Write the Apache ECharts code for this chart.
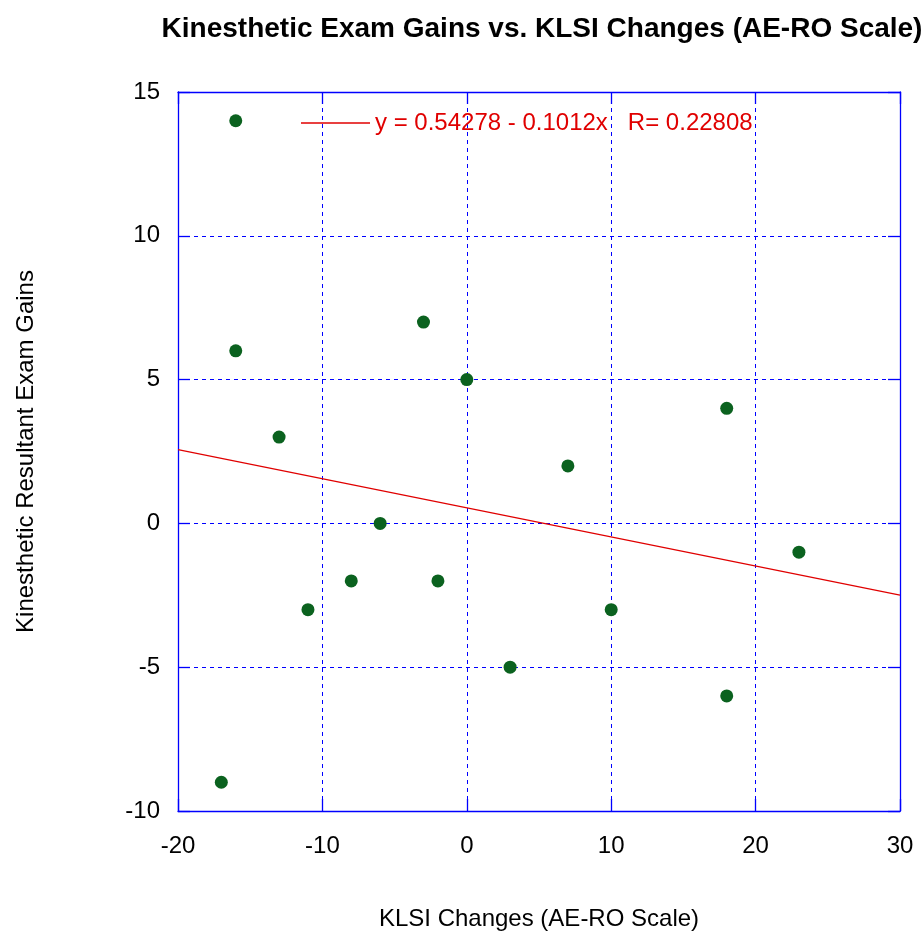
<!DOCTYPE html>
<html><head><meta charset="utf-8">
<script src="https://cdn.jsdelivr.net/npm/echarts@6/dist/echarts.min.js"></script>
<style>html,body{margin:0;padding:0;background:#fff}#c{width:922px;height:936px}</style>
</head><body><div id="c"></div>
<script>
const klsiChanges = [-16, -16, -13, -17, -11, -8, -6, -3, -2, 0, 3, 7, 10, 18, 18, 23];
const examGains   = [14, 6, 3, -9, -3, -2, 0, 7, -2, 5, -5, 2, -3, 4, -6, -1];
const fitX = [-20, 30];
const fitY = [2.567, -2.493];
const fitLabel = 'y = 0.54278 - 0.1012x   R= 0.22808';
const xTicks = {min: -20, max: 30, interval: 10};
const yTicks = {min: -10, max: 15, interval: 5};

const font = 'Arial, "Liberation Sans", Helvetica, sans-serif';
const blue = '#0000ff';
const chart = echarts.init(document.getElementById('c'), null, {renderer: 'canvas'});
const baseAxis = (t) => ({
  type: 'value', min: t.min, max: t.max, interval: t.interval,
  axisLine: {show: true, onZero: false, lineStyle: {color: blue, width: 1.3}},
  axisTick: {show: true, inside: true, length: 12, lineStyle: {color: blue, width: 1.3}},
  splitLine: {show: false}
});
chart.setOption({
  animation: false,
  backgroundColor: '#fff',
  title: {
    text: 'Kinesthetic Exam Gains vs. KLSI Changes (AE-RO Scale)',
    left: 537, top: 10, textAlign: 'center',
    textStyle: {fontFamily: font, fontSize: 28, fontWeight: 'bold', color: '#000'}
  },
  legend: {
    data: [{name: fitLabel, icon: 'rect'}], left: 296, top: 106, itemWidth: 69, itemHeight: 1.3,
    textStyle: {fontFamily: font, fontSize: 24, color: '#e00000'}
  },
  grid: {left: 178, right: 22, top: 92, bottom: 123, containLabel: false},
  xAxis: [
    Object.assign(baseAxis(xTicks), {
      position: 'bottom', name: 'KLSI Changes (AE-RO Scale)', nameLocation: 'middle', nameGap: 96,
      nameTextStyle: {fontFamily: font, fontSize: 24, color: '#000'},
      axisLabel: {fontFamily: font, fontSize: 24, color: '#000', margin: 23},
      splitLine: {show: true, lineStyle: {color: blue, type: [4, 4], width: 1}}
    }),
    Object.assign(baseAxis(xTicks), {position: 'top', axisLabel: {show: false}})
  ],
  yAxis: [
    Object.assign(baseAxis(yTicks), {
      position: 'left', name: 'Kinesthetic Resultant Exam Gains', nameLocation: 'middle', nameGap: 140,
      nameTextStyle: {fontFamily: font, fontSize: 24, color: '#000'},
      axisLabel: {fontFamily: font, fontSize: 24, color: '#000', margin: 18},
      splitLine: {show: true, lineStyle: {color: blue, type: [4, 4], width: 1}}
    }),
    Object.assign(baseAxis(yTicks), {position: 'right', axisLabel: {show: false}})
  ],
  series: [
    {
      name: 'data', type: 'scatter', symbol: 'circle', symbolSize: 13,
      itemStyle: {color: '#0b621f', opacity: 1},
      data: klsiChanges.map((x, i) => [x, examGains[i]]), z: 3
    },
    {
      name: fitLabel, type: 'line', symbol: 'none', showSymbol: false,
      lineStyle: {color: '#e00000', width: 1.2}, itemStyle: {color: '#e00000'},
      data: fitX.map((x, i) => [x, fitY[i]]), z: 2
    }
  ]
});
</script></body></html>
